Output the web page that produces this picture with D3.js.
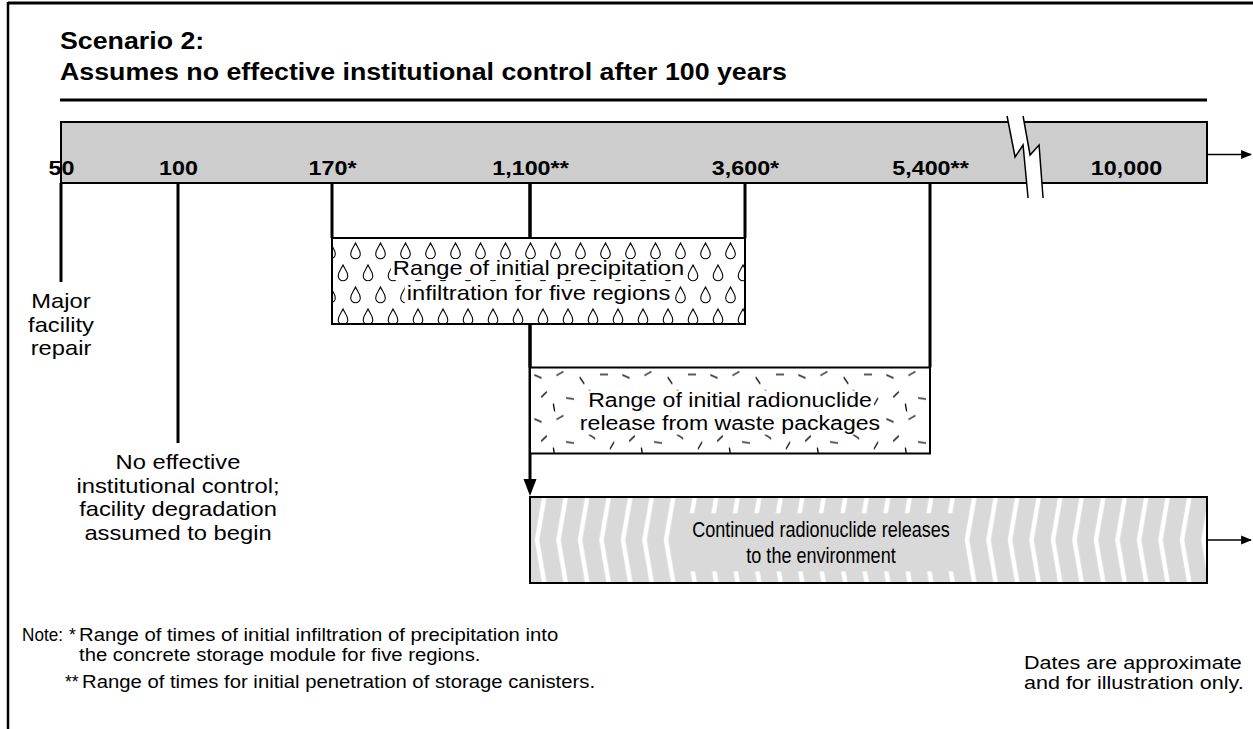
<!DOCTYPE html>
<html>
<head>
<meta charset="utf-8">
<script src="https://cdn.jsdelivr.net/npm/d3@7"></script>
<style>
  body { margin: 0; background: #fff; }
  text { font-family: "Liberation Sans", Arial, Helvetica, sans-serif; fill: #000; }
</style>
</head>
<body>
<script>
// ---- data ----
var tickYears = [50, 100, 170, 1100, 3600, 5400, 10000];
var tickLabels = ["50", "100", "170*", "1,100**", "3,600*", "5,400**", "10,000"];

var milestoneYears = [50, 100];
var milestoneText = [
    ["Major", "facility", "repair"],
    ["No effective", "institutional control;", "facility degradation", "assumed to begin"]
];

var rangeNames = ["precip", "release", "continued"];
var rangeStart = [170, 1100, 1100];
var rangeEnd = [3600, 5400, null];   // null = keeps going past the chart
var rangeText = [
    ["Range of initial precipitation", "infiltration for five regions"],
    ["Range of initial radionuclide", "release from waste packages"],
    ["Continued radionuclide releases", "to the environment"]
];

var titleLines = ["Scenario 2:", "Assumes no effective institutional control after 100 years"];
var noteLines = [
    "Range of times of initial infiltration of precipitation into",
    "the concrete storage module for five regions.",
    "Range of times for initial penetration of storage canisters."
];
var disclaimer = ["Dates are approximate", "and for illustration only."];

// ---- layout ----
var width = 1253, height = 729;
var axisStops = [61, 178, 332, 530, 745, 930, 1126];  // schematic (not to scale) timeline
var barLeft = 61, barRight = 1207, barTop = 122, barBottom = 183;
var SX = 1.13;

var x = d3.scaleLinear().domain(tickYears).range(axisStops);
var rowY = d3.scaleBand().domain(rangeNames).range([238, 583]).paddingInner(0.336);

var svg = d3.select("body").append("svg")
    .attr("width", width)
    .attr("height", height);

var defs = svg.append("defs");

defs.append("marker")
    .attr("id", "arrow")
    .attr("viewBox", "0 0 10 10")
    .attr("refX", 9).attr("refY", 5)
    .attr("markerWidth", 11).attr("markerHeight", 11)
    .attr("markerUnits", "userSpaceOnUse")
    .attr("orient", "auto")
  .append("path")
    .attr("d", "M0,1 L10,5 L0,9 Z")
    .attr("fill", "#000");

// rain drops pattern
var drop = "M0,-8 C1.8,-4 4.8,-1.2 4.8,3 A4.8,4.8 0 0 1 -4.8,3 C-4.8,-1.2 -1.8,-4 0,-8 Z";
var dropPat = defs.append("pattern")
    .attr("id", "drops")
    .attr("patternUnits", "userSpaceOnUse")
    .attr("width", 25).attr("height", 44)
    .attr("x", x(170) + 11).attr("y", rowY("precip") + 2);
dropPat.append("rect").attr("width", 25).attr("height", 44).attr("fill", "#fff");
[[12.5, 11], [0, 33], [25, 33]].forEach(function(p) {
    dropPat.append("path")
        .attr("d", drop)
        .attr("transform", "translate(" + p[0] + "," + p[1] + ")")
        .attr("fill", "none").attr("stroke", "#000").attr("stroke-width", 1.1);
});

// scattered dash pattern
var dashPat = defs.append("pattern")
    .attr("id", "dashes")
    .attr("patternUnits", "userSpaceOnUse")
    .attr("width", 88).attr("height", 44)
    .attr("x", x(1100)).attr("y", rowY("release"));
dashPat.append("rect").attr("width", 88).attr("height", 44).attr("fill", "#fff");
var dashBits = [[8, 9, 25], [30, 6, -30], [52, 13, 55], [74, 7, 0], [14, 27, -45],
                [40, 31, 10], [62, 25, 35], [82, 34, -60], [24, 40, 80]];
dashBits.forEach(function(d) {
    dashPat.append("line")
        .attr("x1", -4).attr("x2", 4)
        .attr("transform", "translate(" + d[0] + "," + d[1] + ") rotate(" + d[2] + ")")
        .attr("stroke", "#000").attr("stroke-width", 1.3);
});

// chevron pattern
var chevH = rowY.bandwidth();
var chevPat = defs.append("pattern")
    .attr("id", "chevrons")
    .attr("patternUnits", "userSpaceOnUse")
    .attr("width", 21.5).attr("height", chevH)
    .attr("x", x(1100)).attr("y", rowY("continued"));
chevPat.append("rect").attr("width", 21.5).attr("height", chevH).attr("fill", "#d9d9d9");
chevPat.append("polyline")
    .attr("points", "15,-4 7," + chevH / 2 + " 15," + (chevH + 4))
    .attr("fill", "none").attr("stroke", "#fff").attr("stroke-width", 4.5);

// helper for stretched text lines
function lines(g, cx, y0, arr, size, lh, opts) {
    opts = opts || {};
    var sx = opts.sx || SX;
    var out = [];
    arr.forEach(function(t, i) {
        var el = g.append("text")
            .attr("transform", "translate(" + cx + "," + (y0 + i * lh) + ") scale(" + sx + ",1)")
            .attr("text-anchor", opts.anchor || "middle")
            .attr("font-size", size)
            .attr("font-weight", opts.weight || "normal")
            .text(t);
        el.datum({cx: cx, y: y0 + i * lh, sx: sx});
        out.push(el);
    });
    return out;
}

// frame
svg.append("line").attr("x1", 8).attr("x2", 8).attr("y1", 2).attr("y2", height)
    .attr("stroke", "#000").attr("stroke-width", 2.5);
svg.append("line").attr("x1", 8).attr("x2", width).attr("y1", 3).attr("y2", 3)
    .attr("stroke", "#000").attr("stroke-width", 3);

// title
lines(svg, 60, 49, titleLines, 24, 31, {anchor: "start", weight: "bold", sx: 1.115});
svg.append("line").attr("x1", 60).attr("x2", barRight).attr("y1", 100).attr("y2", 100)
    .attr("stroke", "#000").attr("stroke-width", 3);

// connectors from the bar down to each range box
var g = svg.append("g");
rangeNames.forEach(function(name, i) {
    var yTop = rowY(name);
    [rangeStart[i], rangeEnd[i]].forEach(function(yr) {
        if (yr === null) return;
        var open = name === "continued";
        g.append("line")
            .attr("x1", x(yr)).attr("x2", x(yr))
            .attr("y1", barBottom).attr("y2", open ? yTop - 14 : yTop)
            .attr("stroke", "#000").attr("stroke-width", 3);
        if (open) {
            g.append("path")
                .attr("d", "M" + (x(yr) - 6.5) + "," + (yTop - 18) +
                           " L" + (x(yr) + 6.5) + "," + (yTop - 18) +
                           " L" + x(yr) + "," + (yTop - 1) + " Z")
                .attr("fill", "#000");
        }
    });
});

// milestones
var leaderEnd = [282, 443];
milestoneYears.forEach(function(yr, i) {
    g.append("line")
        .attr("x1", x(yr)).attr("x2", x(yr))
        .attr("y1", barBottom).attr("y2", leaderEnd[i])
        .attr("stroke", "#000").attr("stroke-width", 3);
    lines(g, x(yr), leaderEnd[i] + 26, milestoneText[i], 21, 23.5);
});

// range boxes
var fills = {precip: "url(#drops)", release: "url(#dashes)", continued: "url(#chevrons)"};
var halo = {precip: "#fff", release: "#fff", continued: "#d9d9d9"};
var textShift = {precip: -6, release: -4, continued: -3};
var textGap = {precip: 25, release: 23, continued: 26};
var textSX = {precip: SX, release: 1.1, continued: 0.82};
rangeNames.forEach(function(name, i) {
    var x0 = x(rangeStart[i]);
    var x1 = rangeEnd[i] === null ? barRight : x(rangeEnd[i]);
    var y0 = rowY(name), h = rowY.bandwidth();
    g.append("rect")
        .attr("x", x0).attr("y", y0).attr("width", x1 - x0).attr("height", h)
        .attr("fill", fills[name]).attr("stroke", "#000").attr("stroke-width", 2);
    var cx = name === "continued" ? 821 : (x0 + x1) / 2;
    var tg = g.append("g");
    var size = name === "continued" ? 22 : 21;
    var els = lines(tg, cx, y0 + h / 2 + textShift[name], rangeText[i], size, textGap[name], {sx: textSX[name]});
    if (name === "continued") {
        var bb = tg.node().getBBox();
        var wMax = d3.max(els, function(el) { return el.node().getBBox().width * textSX[name]; });
        tg.insert("rect", ":first-child")
            .attr("x", cx - wMax / 2 - 12).attr("y", bb.y - 4)
            .attr("width", wMax + 24).attr("height", bb.height + 8)
            .attr("fill", halo[name]);
    } else {
        els.forEach(function(el) {
            var b = el.node().getBBox();
            var w = b.width * textSX[name];
            tg.insert("rect", ":first-child")
                .attr("x", cx - w / 2 - 2).attr("y", el.datum().y - 16)
                .attr("width", w + 4).attr("height", 21)
                .attr("fill", halo[name]);
        });
    }
    if (rangeEnd[i] === null) {
        g.append("line")
            .attr("x1", barRight).attr("x2", width - 2)
            .attr("y1", y0 + h / 2).attr("y2", y0 + h / 2)
            .attr("stroke", "#000").attr("stroke-width", 1.5)
            .attr("marker-end", "url(#arrow)");
    }
});

// timeline bar
svg.append("rect")
    .attr("x", barLeft).attr("y", barTop)
    .attr("width", barRight - barLeft).attr("height", barBottom - barTop)
    .attr("fill", "#cdcdcd").attr("stroke", "#000").attr("stroke-width", 2);
svg.append("line")
    .attr("x1", barRight).attr("x2", width - 2)
    .attr("y1", (barTop + barBottom) / 2 + 2).attr("y2", (barTop + barBottom) / 2 + 2)
    .attr("stroke", "#000").attr("stroke-width", 1.5)
    .attr("marker-end", "url(#arrow)");

// axis labels inside the bar
var axis = d3.axisBottom(x)
    .tickValues(tickYears)
    .tickSize(0)
    .tickPadding(0)
    .tickFormat(function(d, i) { return tickLabels[i]; });
var axisG = svg.append("g")
    .attr("transform", "translate(0," + 160 + ")")
    .call(axis);
axisG.select(".domain").remove();
axisG.selectAll("text")
    .attr("font-size", 21)
    .attr("font-weight", "bold")
    .attr("font-family", "Liberation Sans, Arial, sans-serif")
    .attr("fill", "#000")
    .attr("transform", "scale(1.11,1)")
    .attr("dy", "0.71em");

// axis break
var bx = x(5400) + 0.485 * (x(10000) - x(5400));
var leftZig = [[bx - 18, barTop - 6], [bx - 10, barTop + 35], [bx - 2, barTop + 23], [bx + 3, barBottom + 15]];
var rightZig = [[bx - 2, barTop - 6], [bx + 5, barTop + 33], [bx + 14, barTop + 23], [bx + 18, barBottom + 15]];
svg.append("path")
    .attr("d", d3.line()(leftZig.concat(rightZig.slice().reverse())) + "Z")
    .attr("fill", "#fff");
[leftZig, rightZig].forEach(function(z) {
    svg.append("path").attr("d", d3.line()(z))
        .attr("fill", "none").attr("stroke", "#000").attr("stroke-width", 1.5);
});

// notes
var notes = svg.append("g");
lines(notes, 22, 641, ["Note:"], 17.5, 0, {anchor: "start", sx: 0.98});
lines(notes, 69, 641, ["*"], 17.5, 0, {anchor: "start", sx: 1.0});
lines(notes, 79, 641, [noteLines[0], noteLines[1]], 17.5, 20, {anchor: "start", sx: 1.16});
lines(notes, 65, 688, ["**"], 17.5, 0, {anchor: "start", sx: 1.0});
lines(notes, 82, 688, [noteLines[2]], 17.5, 0, {anchor: "start", sx: 1.16});
lines(notes, 1024, 669, disclaimer, 17.5, 20, {anchor: "start", sx: 1.23});
</script>
</body>
</html>
